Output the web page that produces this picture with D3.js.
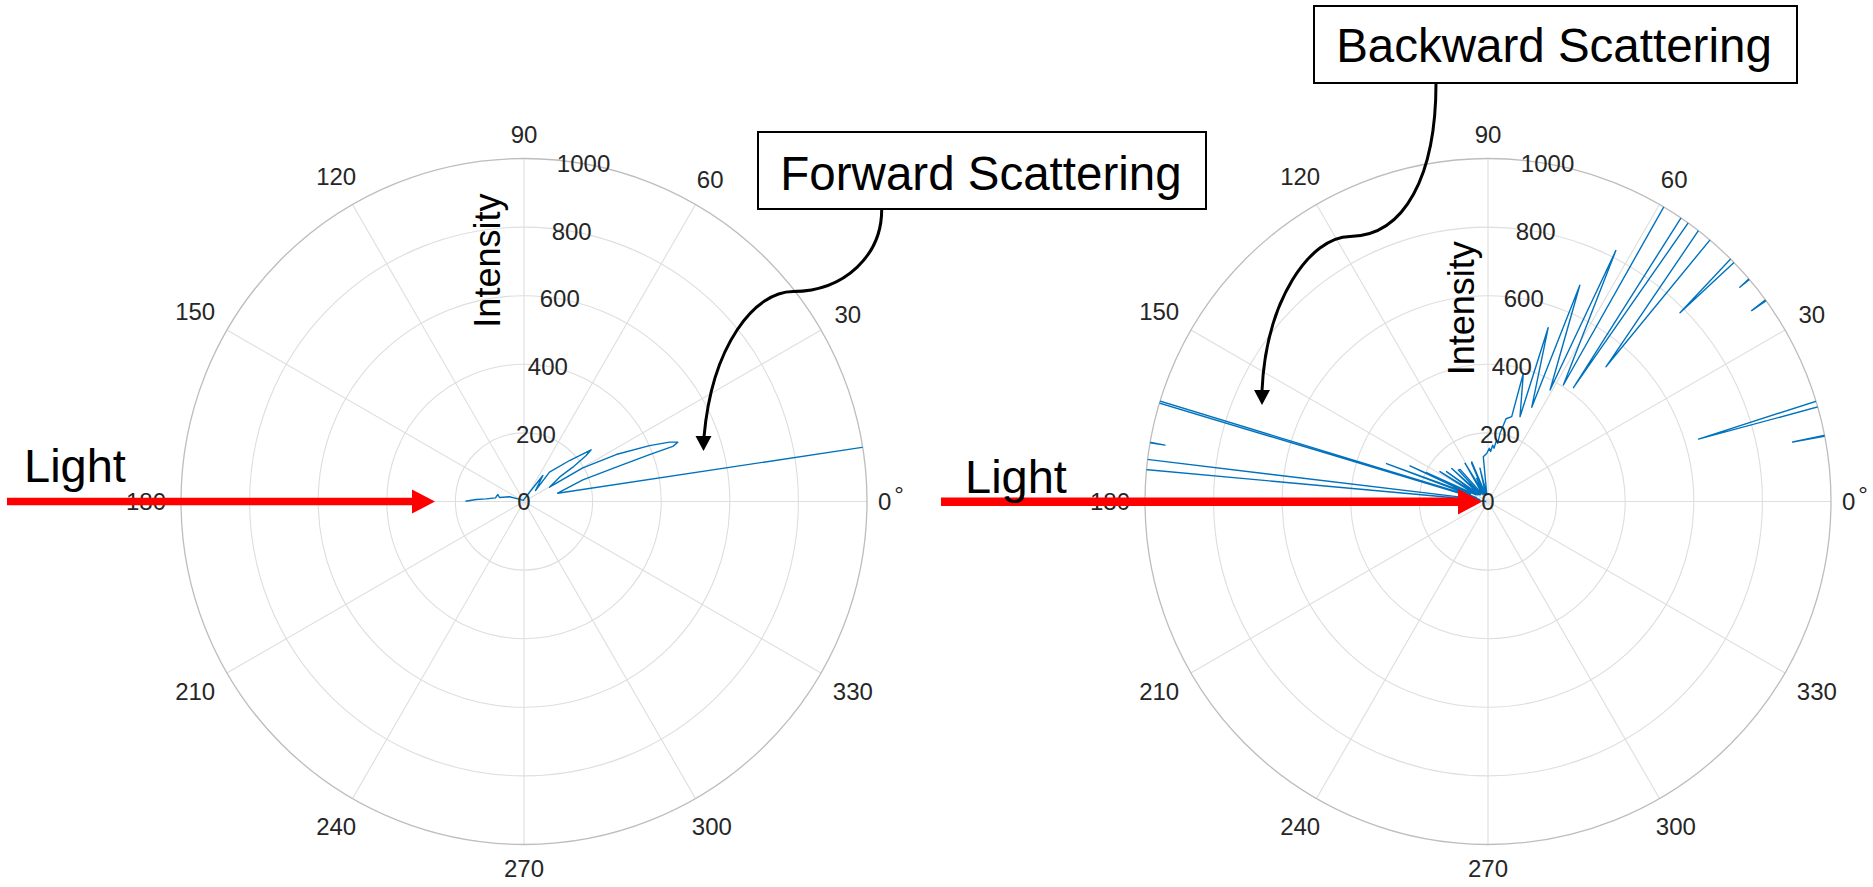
<!DOCTYPE html>
<html>
<head>
<meta charset="utf-8">
<script src="https://cdn.jsdelivr.net/npm/d3@7/dist/d3.min.js"></script>
<style>
    body { margin: 0; background: #fff; }
    svg text { font-family: "Liberation Sans", Arial, Helvetica, sans-serif; }
</style>
</head>
<body>
<svg id="scatter-chart" width="1873" height="887"></svg>
<script>
var thetaTicks = [0, 30, 60, 90, 120, 150, 180, 210, 240, 270, 300, 330];
var rTicks = [0, 200, 400, 600, 800, 1000];

// forward scattering trace (degrees, intensity); values past 1000 are clipped by the axes
var forwardTheta = [179.7, 177.6, 176.0, 172.7, 165.0, 170.7, 162.0, 156.6, 120.0, 66.6,
    54.0, 43.7, 49.0, 42.0, 37.6, 36.5, 35.1, 34.4, 29.3, 29.8,
    27.0, 24.0, 22.2, 21.1, 20.3, 20.5, 20.4, 20.2, 13.8, 8.98];
var forwardR = [170.6, 139.6, 110.6, 83.8, 79.0, 72.4, 44.4, 19.6, 4, 15.9,
    93.6, 46.4, 113.3, 178.6, 247, 225.5, 174, 125.5, 85.3, 197.6,
    301.6, 400.7, 458, 480.7, 462.6, 390.7, 286.8, 182.8, 101, 1300];

// backward scattering trace
var backwardTheta = [179, 174.0, 174.7, 170.4, 170.1, 169.8, 173.0, 166, 163.3, 163.0,
    161, 159.5, 157.5, 155.5, 154, 154.8, 151, 148.1, 146, 144.2,
    141, 137.6, 135, 133.3, 131, 127, 121, 118, 116, 114.5,
    113.2, 112.3, 108, 103.6, 100, 96, 93, 91.6, 88.6, 87,
    85.3, 83.6, 82, 80.5, 80, 77.7, 74.4, 74.6, 69.3, 70.9,
    65.1, 67.0, 60.9, 63.0, 57.1, 59.5, 56.2, 53.1, 54.5, 53.0,
    48.8, 49.9, 45.4, 44.5, 43.9, 41.0, 40.4, 40.0, 36.4, 35.9,
    35.5, 17.2, 16.5, 15.8, 11.3, 11.05, 10.8, 0];
var backwardR = [5, 131, 1300, 1300, 956, 1300, 1300, 25, 1300, 1300,
    35, 316, 55, 250, 55, 198, 40, 165, 35, 149,
    30, 143, 30, 126, 124, 25, 130, 25, 75, 25,
    121, 125, 20, 100, 20, 131, 137, 140, 155, 146,
    165, 156, 181, 172, 202, 247, 257, 388, 264, 536,
    303, 685, 372, 821, 404.5, 1300, 1300, 415, 1300, 1300,
    522, 1300, 1300, 785, 1300, 1300, 964, 1300, 1300, 949,
    1300, 1300, 640, 1300, 1300, 905, 1300, 1300];

var svg = d3.select("#scatter-chart"),
    radius = 343,
    tickSize = 24;

var r = d3.scaleLinear().domain([0, 1000]).range([0, radius]);
var theta = d3.scaleLinear().domain([0, 360]).range([Math.PI / 2, Math.PI / 2 - 2 * Math.PI]);

var drawPolar = function (cx, cy, thetaData, rData, clipId, labelX, labelY) {
    var g = svg.append("g").attr("transform", "translate(" + cx + "," + cy + ")");

    g.selectAll(".ring")
        .data(rTicks.slice(1, -1))
        .enter().append("circle")
        .attr("r", function (d) { return r(d); })
        .attr("fill", "none")
        .attr("stroke", "#dedede")
        .attr("stroke-width", 1.1);

    g.selectAll(".spoke")
        .data(thetaTicks)
        .enter().append("line")
        .attr("x1", 0).attr("y1", 0)
        .attr("x2", function (d) { return d3.pointRadial(theta(d), radius)[0]; })
        .attr("y2", function (d) { return d3.pointRadial(theta(d), radius)[1]; })
        .attr("stroke", "#dedede")
        .attr("stroke-width", 1.1);

    g.append("circle")
        .attr("r", r(1000))
        .attr("fill", "none")
        .attr("stroke", "#bdbdbd")
        .attr("stroke-width", 1.3);

    svg.append("clipPath").attr("id", clipId)
        .append("circle").attr("r", radius);

    var line = d3.lineRadial()
        .angle(function (i) { return theta(thetaData[i]); })
        .radius(function (i) { return r(rData[i]); });

    g.append("path")
        .datum(d3.range(thetaData.length))
        .attr("clip-path", "url(#" + clipId + ")")
        .attr("d", line)
        .attr("fill", "none")
        .attr("stroke", "#0072bd")
        .attr("stroke-width", 1.4)
        .attr("stroke-linejoin", "round");

    // angle labels
    g.selectAll(".tlabel")
        .data(thetaTicks.slice(1))
        .enter().append("text")
        .attr("text-anchor", "middle")
        .attr("font-size", tickSize)
        .attr("fill", "#262626")
        .attr("x", function (d) {
            var a = d * Math.PI / 180, w = String(d).length * 0.556 * tickSize;
            var rr = radius + 15 + Math.abs(Math.cos(a)) * w / 2 + Math.abs(Math.sin(a)) * 8.8;
            return rr * Math.cos(a);
        })
        .attr("y", function (d) {
            var a = d * Math.PI / 180, w = String(d).length * 0.556 * tickSize;
            var rr = radius + 15 + Math.abs(Math.cos(a)) * w / 2 + Math.abs(Math.sin(a)) * 8.8;
            return -rr * Math.sin(a) + 8.6;
        })
        .text(function (d) { return d; });

    var zero = g.append("text")
        .attr("x", radius + 11)
        .attr("y", 8.6)
        .attr("font-size", tickSize)
        .attr("fill", "#262626");
    zero.append("tspan").text("0");
    zero.append("tspan").attr("dx", 3).attr("dy", -7).text("\u00b0");

    // radial labels along 80 degrees
    g.selectAll(".rlabel")
        .data(rTicks)
        .enter().append("text")
        .attr("text-anchor", "middle")
        .attr("font-size", tickSize)
        .attr("fill", "#262626")
        .attr("x", function (d) { return d3.pointRadial(theta(80), r(d))[0]; })
        .attr("y", function (d) { return d3.pointRadial(theta(80), r(d))[1] + 8.6; })
        .text(function (d) { return d; });

    svg.append("text")
        .attr("transform", "translate(" + labelX + "," + labelY + ") rotate(-90)")
        .attr("text-anchor", "middle")
        .attr("font-size", 36)
        .attr("fill", "#000")
        .text("Intensity");
};

drawPolar(524, 501.5, forwardTheta, forwardR, "clip-forward", 500, 260.6);
drawPolar(1488, 501.5, backwardTheta, backwardR, "clip-backward", 1474, 308.3);

// light arrows
var drawLight = function (x0, x1, tip, y, thick, half, textX, textY) {
    svg.append("line")
        .attr("x1", x0).attr("x2", x1)
        .attr("y1", y).attr("y2", y)
        .attr("stroke", "#ff0000")
        .attr("stroke-width", thick);
    svg.append("polygon")
        .attr("points", [[x1, y - half], [tip, y], [x1, y + half]].join(" "))
        .attr("fill", "#ff0000");
    svg.append("text")
        .attr("x", textX).attr("y", textY)
        .attr("font-size", 47)
        .attr("fill", "#000")
        .text("Light");
};

drawLight(7, 412, 435, 501.6, 7.5, 12, 24, 481.5);
drawLight(941, 1458, 1482, 501.7, 8.5, 12.8, 965, 493);

// callout boxes with curved arrows
var drawCallout = function (box, label, textX, textY, path, tip) {
    svg.append("rect")
        .attr("x", box[0]).attr("y", box[1])
        .attr("width", box[2]).attr("height", box[3])
        .attr("fill", "#fff")
        .attr("stroke", "#000")
        .attr("stroke-width", 2);
    svg.append("text")
        .attr("x", textX).attr("y", textY)
        .attr("text-anchor", "middle")
        .attr("font-size", 47.5)
        .attr("fill", "#000")
        .text(label);
    svg.append("path")
        .attr("d", path)
        .attr("fill", "none")
        .attr("stroke", "#000")
        .attr("stroke-width", 3);
    svg.append("polygon")
        .attr("points", [[tip[0] - 8, tip[1] - 15], [tip[0] + 8, tip[1] - 15], [tip[0], tip[1]]].join(" "))
        .attr("fill", "#000");
};

drawCallout([758, 132, 448, 77], "Forward Scattering", 981, 189.5,
    "M881.7,209 C882,255 845,291 793,291.5 C755,291.5 712,345 704,437", [703.5, 451]);
drawCallout([1314, 6, 483, 77], "Backward Scattering", 1554, 62,
    "M1436,83 C1436,175 1405,236 1350,236.5 C1310,237 1266,300 1262,391", [1262, 405]);
</script>
</body>
</html>
